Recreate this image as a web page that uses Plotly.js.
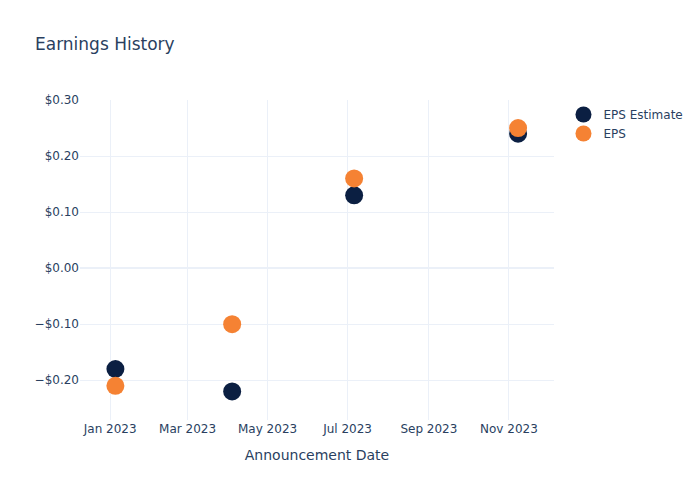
<!DOCTYPE html>
<html><head><meta charset="utf-8">
<script src="https://cdn.plot.ly/plotly-3.0.1.min.js"></script>
<style>body{margin:0}#chart{width:700px;height:500px}</style>
</head><body><div id="chart"></div>
<script>
const dates = ["2023-01-05", "2023-04-04", "2023-07-06", "2023-11-08"];
const epsEstimate = [-0.18, -0.22, 0.13, 0.24];
const epsActual = [-0.21, -0.10, 0.16, 0.25];

const traces = [
  {x: dates, y: epsEstimate, name: "EPS Estimate", type: "scatter", mode: "markers",
   marker: {color: "#0b1f42", size: 18}},
  {x: dates, y: epsActual, name: "EPS", type: "scatter", mode: "markers",
   marker: {color: "#f58233", size: 18}}
];
const layout = {
  width: 700, height: 500,
  title: {text: "Earnings History", x: 0.05, font: {size: 17}},
  plot_bgcolor: "white", paper_bgcolor: "white",
  font: {family: "DejaVu Sans, verdana, sans-serif", color: "#2a3f5f", size: 12},
  xaxis: {title: {text: "Announcement Date", standoff: 15}, automargin: true, type: "date", range: ["2022-12-09", "2023-12-05 09:00"], gridcolor: "#EBF0F8", zeroline: false, showline: false, dtick: "M2", tickformat: "%b %Y", ticks: ""},
  yaxis: {tickformat: "$.2f", range: [-0.271, 0.30], dtick: 0.1, gridcolor: "#EBF0F8", zerolinecolor: "#EBF0F8", zerolinewidth: 2, showline: false, ticks: ""}
};
Plotly.newPlot("chart", traces, layout, {displayModeBar: false});
</script></body></html>
